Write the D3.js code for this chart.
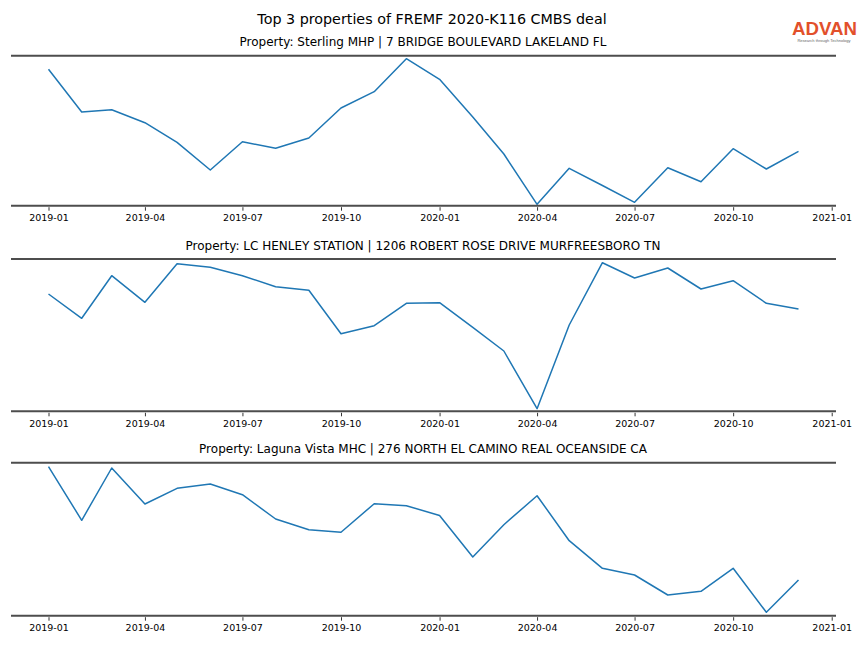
<!DOCTYPE html>
<html><head><meta charset="utf-8">
<script src="https://cdn.jsdelivr.net/npm/d3@7"></script>
<style>body{margin:0;background:#fff}svg{display:block}</style>
</head><body>
<svg id="c" width="864" height="648"></svg>
<script>
const chartTitle = "Top 3 properties of FREMF 2020-K116 CMBS deal";
const months = ["2019-01","2019-02","2019-03","2019-04","2019-05","2019-06","2019-07","2019-08","2019-09","2019-10","2019-11","2019-12",
  "2020-01","2020-02","2020-03","2020-04","2020-05","2020-06","2020-07","2020-08","2020-09","2020-10","2020-11","2020-12"];
const propertyNames = [
  "Property: Sterling MHP | 7 BRIDGE BOULEVARD LAKELAND FL",
  "Property: LC HENLEY STATION | 1206 ROBERT ROSE DRIVE MURFREESBORO TN",
  "Property: Laguna Vista MHC | 276 NORTH EL CAMINO REAL OCEANSIDE CA"
];
const sterling = [136.4,93.7,96,83,63.4,35.7,64,57.4,67.7,97.7,114,147,126.4,88.7,51.7,1.4,37.4,20.2,3.4,38,24,57,36.7,54.4];
const henley = [117.3,93,135.6,109,147.6,144,135.6,124.6,121,77.6,85.6,108,108.6,84,60.3,2.6,86.3,148.6,133.3,143.3,122.3,130.6,108,102.3];
const laguna = [149,95.4,147.7,111.7,127.4,131.7,121,96.7,86,83.4,112,110,100.2,58.7,91,120,75,47.4,40.7,20.7,24.4,47.4,3.4,35.7];
const tickLabels = ["2019-01","2019-04","2019-07","2019-10","2020-01","2020-04","2020-07","2020-10","2021-01"];
const seriesList = [sterling, henley, laguna];

const svg = d3.select("#c");
const parse = d3.utcParse("%Y-%m");
const dates = months.map(parse);
const tickDates = tickLabels.map(parse);
const pad = 35;
const x = d3.scaleUtc()
  .domain([d3.utcDay.offset(dates[0], -pad), d3.utcDay.offset(dates[dates.length-1], pad)])
  .range([11, 836]);

const panels = [{top:55.7,bottom:205.7},{top:259,bottom:411.3},{top:462.7,bottom:615.7}];
const font = "DejaVu Sans, sans-serif";

svg.append("text").attr("x",432).attr("y",24).attr("text-anchor","middle")
  .attr("font-family",font).attr("font-size",14.3).attr("fill","#000").text(chartTitle);

// logo
svg.append("text").attr("x",792).attr("y",34.5)
  .attr("font-family","Liberation Sans, Arial, sans-serif").attr("font-size",19).attr("font-weight","bold")
  .attr("fill","#e2502b").attr("textLength",65).attr("lengthAdjust","spacingAndGlyphs").text("ADVAN");
svg.append("text").attr("x",824).attr("y",42).attr("text-anchor","middle")
  .attr("font-family","Liberation Sans, Arial, sans-serif").attr("font-size",4)
  .attr("fill","#666").text("Research through Technology");

panels.forEach((p, i) => {
  const vals = seriesList[i];
  const y = d3.scaleLinear().domain([0, p.bottom - p.top]).range([p.bottom, p.top]);
  const g = svg.append("g");
  g.append("text").attr("x",423).attr("y",p.top-9.5).attr("text-anchor","middle")
    .attr("font-family",font).attr("font-size",12).attr("fill","#000").text(propertyNames[i]);
  const line = d3.line().x((d,j)=>x(dates[j])).y(d=>y(d));
  g.append("path").datum(vals).attr("d",line).attr("fill","none")
    .attr("stroke","#1f77b4").attr("stroke-width",1.5).attr("stroke-linejoin","round");
  g.append("line").attr("x1",11).attr("x2",836).attr("y1",p.top).attr("y2",p.top)
    .attr("stroke","#4d4d4d").attr("stroke-width",2);
  g.append("line").attr("x1",11).attr("x2",836).attr("y1",p.bottom).attr("y2",p.bottom)
    .attr("stroke","#4d4d4d").attr("stroke-width",2);
  const axis = d3.axisBottom(x).tickValues(tickDates).tickFormat(d3.utcFormat("%Y-%m")).tickSize(3.5).tickPadding(4);
  const ag = g.append("g").attr("transform",`translate(0,${p.bottom+1.5})`).call(axis);
  ag.select(".domain").remove();
  ag.selectAll("text").attr("font-family",font).attr("font-size",9.5).attr("fill","#000");
  ag.selectAll("line").attr("stroke","#000").attr("stroke-width",0.8);
});
</script>
</body></html>
